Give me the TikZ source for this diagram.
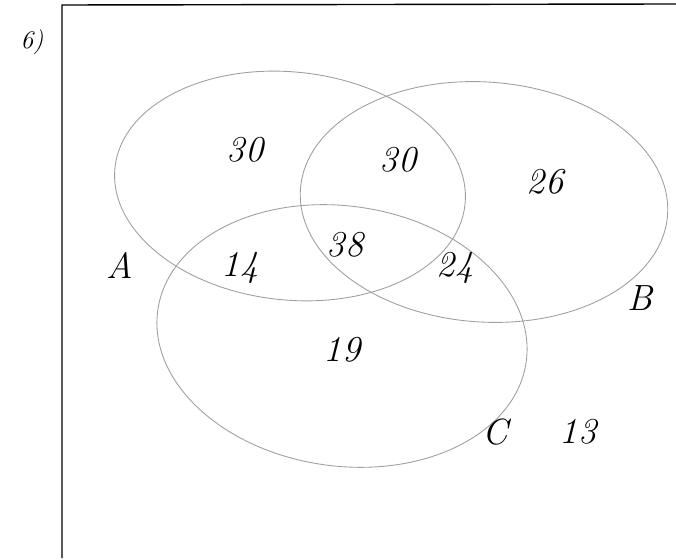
\documentclass[tikz,border=0pt]{standalone}
\usepackage{tikz}
\usetikzlibrary{positioning}

\begin{document}
\begin{tikzpicture}[x=0.02cm,y=-0.02cm,
    setline/.style={draw=gray!75,line width=0.5pt},
    cnt/.style={font=\huge\itshape},
    setname/.style={font=\huge\itshape}]
    \useasboundingbox (0,0) rectangle (676,560);
    % frame
    \draw[line width=0.8pt] (62,558) -- (62,5) -- (676,4);
    \node[font=\Large\itshape] (part) at (32,42) {6)};
    % the three sets
    \draw[setline,rotate around={-6:(290,186)}] (290,186) ellipse (176 and 114);
    \draw[setline,rotate around={-4:(484,202)}] (484,202) ellipse (184 and 120);
    \draw[setline,rotate around={-8:(342,336)}] (342,336) ellipse (186 and 130);
    % counts
    \node[cnt] (onlyA) at (245,150) {30};
    \node[cnt] (AB) at (398,160) {30};
    \node[cnt] (onlyB) at (545,182) {26};
    \node[cnt] (ABC) at (345,245) {38};
    \node[cnt] (AC) at (240,268) {14};
    \node[cnt] (BC) at (455,268) {24};
    \node[cnt] (onlyC) at (342,350) {19};
    \node[cnt] (none) at (578,432) {13};
    % set names
    \node[setname] (nameA) at (120,265) {A};
    \node[setname] (nameB) at (640,298) {B};
    \node[setname] (nameC) at (495,432) {C};
\end{tikzpicture}
\end{document}
